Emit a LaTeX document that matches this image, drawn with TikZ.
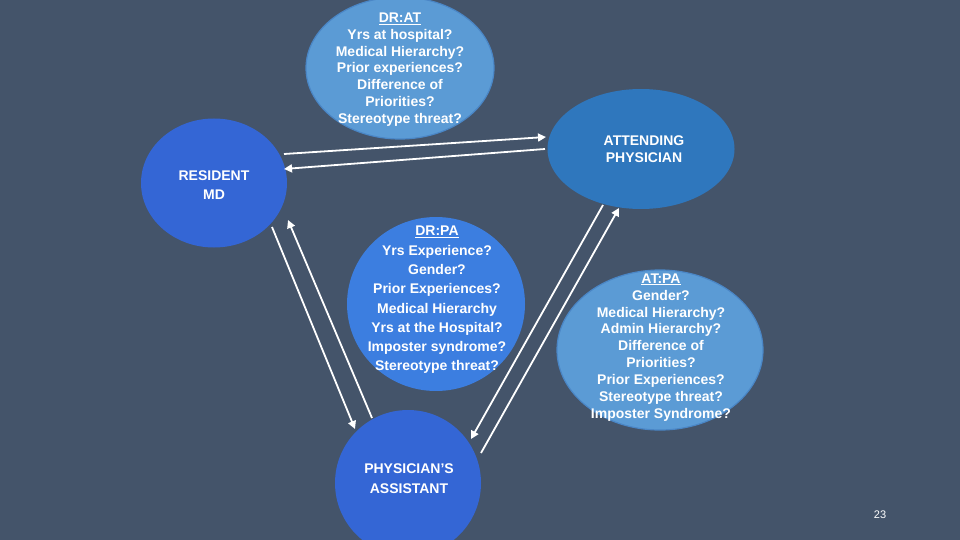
\documentclass[tikz,border=0pt]{standalone}
\usepackage{fontspec}
\setmainfont{Liberation Sans}
\usetikzlibrary{arrows.meta, shapes.geometric}
\definecolor{slate}{HTML}{44546A}
\definecolor{rolec}{HTML}{3466D5}
\definecolor{attc}{HTML}{2F77BD}
\definecolor{drpac}{HTML}{3C7EE0}
\definecolor{pairc}{HTML}{5B9BD5}
\definecolor{pairline}{HTML}{4A86C6}
\tikzset{
  role/.style={ellipse, inner sep=0pt},
  pair/.style={ellipse, fill=pairc, draw=pairline, line width=1.2pt, inner sep=0pt},
  txt/.style={text=white, align=center, inner sep=0pt},
  link/.style={draw=white, line width=1.8pt, -{Triangle[length=8pt, width=8pt]}},
}
\newcommand{\txtsize}[1]{\bfseries\fontsize{14}{#1}\selectfont}

\begin{document}
\begin{tikzpicture}[x=1pt, y=-1pt]
\fill[slate] (0,0) rectangle (960,540);
\useasboundingbox (0,0) rectangle (960,540);
\clip (0,0) rectangle (960,540);

% the three roles
\node[role, fill=rolec, minimum width=146pt, minimum height=129pt] (res) at (214,183) {};
\node[txt, font=\txtsize{19}] (res-t) at (214,185.5) {RESIDENT\\MD};
\node[role, fill=attc, minimum width=187pt, minimum height=120pt] (att) at (641,149) {};
\node[txt, font=\txtsize{17}] (att-t) at (644,149.5) {ATTENDING\\PHYSICIAN};
\node[role, fill=rolec, minimum width=146pt, minimum height=146pt] (pa) at (408,483) {};
\node[txt, font=\txtsize{20}] (pa-t) at (409,479) {PHYSICIAN'S\\ASSISTANT};

% what each pair brings to the table
\node[pair, minimum width=188pt, minimum height=142pt] (drat) at (400,68) {};
\node[txt, font=\txtsize{16.8}] (drat-t) at (400,69.5) {\underline{DR:AT}\\Yrs at hospital?\\Medical Hierarchy?\\Prior experiences?\\Difference of\\Priorities?\\Stereotype threat?};
\node[role, fill=drpac, minimum width=178pt, minimum height=174pt] (drpa) at (436,304) {};
\node[txt, font=\txtsize{19.3}] (drpa-t) at (437,300) {\underline{DR:PA}\\Yrs Experience?\\Gender?\\Prior Experiences?\\Medical Hierarchy\\Yrs at the Hospital?\\Imposter syndrome?\\Stereotype threat?};
\node[pair, minimum width=206pt, minimum height=160pt] (atpa) at (660,350) {};
\node[txt, font=\txtsize{16.9}] (atpa-t) at (661,347.5) {\underline{AT:PA}\\Gender?\\Medical Hierarchy?\\Admin Hierarchy?\\Difference of\\Priorities?\\Prior Experiences?\\Stereotype threat?\\Imposter Syndrome?};

% ends of the two-way links
\coordinate (res-att) at (284,154);
\coordinate (att-res) at (546,137);
\coordinate (att-res2) at (545,149);
\coordinate (res-att2) at (284,169);
\coordinate (res-pa) at (272,227);
\coordinate (pa-res) at (355,429);
\coordinate (pa-res2) at (372,418);
\coordinate (res-pa2) at (288,220);
\coordinate (att-pa) at (603,205);
\coordinate (pa-att) at (471,439);
\coordinate (pa-att2) at (481,453);
\coordinate (att-pa2) at (619,208);

\draw[link] (res-att) -- (att-res);
\draw[link] (att-res2) -- (res-att2);
\draw[link] (res-pa) -- (pa-res);
\draw[link] (pa-res2) -- (res-pa2);
\draw[link] (att-pa) -- (pa-att);
\draw[link] (pa-att2) -- (att-pa2);

\node[text=white, font=\fontsize{11}{13}\selectfont] (page) at (880,515) {23};
\end{tikzpicture}
\end{document}
